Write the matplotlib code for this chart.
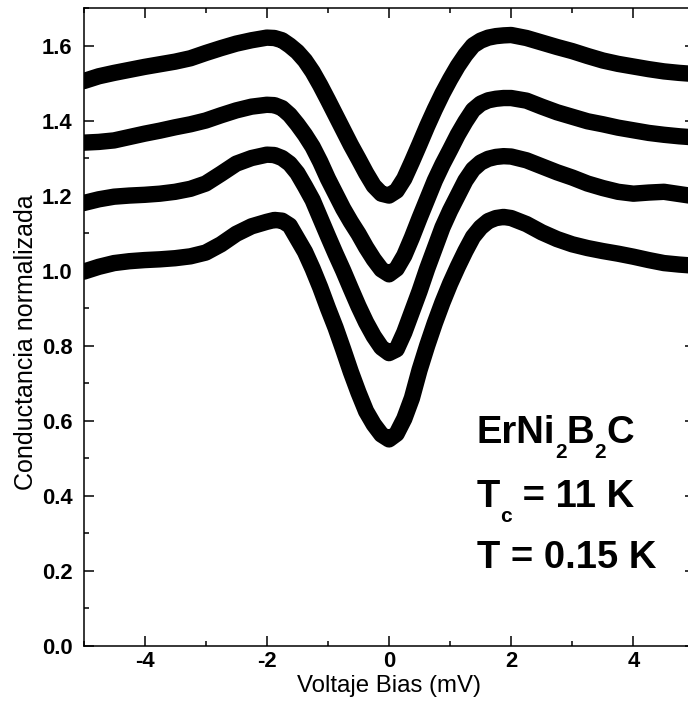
import matplotlib
matplotlib.use("Agg")
import matplotlib.pyplot as plt
from matplotlib import transforms
from matplotlib.ticker import MultipleLocator, FixedLocator

plt.rcParams['font.family'] = ['Liberation Sans', 'DejaVu Sans']

# Bias voltage (mV): coarser on the flat wings, finer across the gap
bias = [-5.0, -4.75, -4.5, -4.25, -4.0, -3.75, -3.5, -3.25, -3.0, -2.75, -2.5, -2.25,
        -2.0, -1.875, -1.75, -1.625, -1.5, -1.375, -1.25, -1.125, -1.0, -0.875,
        -0.75, -0.625, -0.5, -0.375, -0.25, -0.125, 0.0, 0.125, 0.25, 0.375, 0.5,
        0.625, 0.75, 0.875, 1.0, 1.125, 1.25, 1.375, 1.5, 1.625, 1.75, 1.875, 2.0,
        2.25, 2.5, 2.75, 3.0, 3.25, 3.5, 3.75, 4.0, 4.25, 4.5, 4.75, 5.0]

# Normalized conductance curves (vertically offset)
g_top = [1.505, 1.518, 1.527, 1.535, 1.543, 1.550, 1.557, 1.566, 1.580, 1.593, 1.605, 1.614,
         1.621, 1.620, 1.614, 1.600, 1.583, 1.560, 1.530, 1.494, 1.455, 1.415,
         1.375, 1.335, 1.298, 1.260, 1.226, 1.205, 1.200, 1.213, 1.245, 1.290, 1.337,
         1.385, 1.430, 1.472, 1.510, 1.545, 1.575, 1.600, 1.613, 1.621, 1.625, 1.627, 1.628,
         1.620, 1.608, 1.596, 1.585, 1.572, 1.560, 1.551, 1.544, 1.537, 1.531, 1.527, 1.524]
g_upper = [1.341, 1.343, 1.347, 1.356, 1.365, 1.373, 1.382, 1.390, 1.400, 1.414, 1.427, 1.437,
           1.442, 1.441, 1.433, 1.415, 1.390, 1.362, 1.330, 1.290, 1.245, 1.205,
           1.165, 1.130, 1.098, 1.062, 1.030, 1.003, 0.990, 1.005, 1.040, 1.088, 1.140,
           1.190, 1.240, 1.283, 1.322, 1.362, 1.397, 1.428, 1.445, 1.454, 1.458, 1.460, 1.460,
           1.453, 1.437, 1.422, 1.410, 1.398, 1.390, 1.381, 1.374, 1.367, 1.362, 1.358, 1.355]
g_lower = [1.180, 1.190, 1.197, 1.200, 1.202, 1.205, 1.210, 1.218, 1.232, 1.258, 1.285, 1.300,
           1.309, 1.308, 1.300, 1.285, 1.260, 1.225, 1.188, 1.140, 1.092, 1.045,
           1.000, 0.952, 0.905, 0.862, 0.825, 0.795, 0.780, 0.790, 0.835, 0.890, 0.945,
           1.005, 1.060, 1.115, 1.160, 1.200, 1.240, 1.270, 1.288, 1.298, 1.303, 1.305, 1.304,
           1.294, 1.278, 1.262, 1.248, 1.232, 1.220, 1.210, 1.205, 1.208, 1.210, 1.204, 1.198]
g_bottom = [0.997, 1.010, 1.020, 1.025, 1.028, 1.030, 1.033, 1.038, 1.048, 1.070, 1.098, 1.118,
            1.130, 1.135, 1.133, 1.120, 1.085, 1.050, 1.005, 0.955, 0.900, 0.848,
            0.790, 0.730, 0.675, 0.625, 0.590, 0.563, 0.550, 0.565, 0.605, 0.660, 0.735,
            0.800, 0.860, 0.915, 0.965, 1.010, 1.052, 1.090, 1.115, 1.132, 1.140, 1.143, 1.140,
            1.124, 1.102, 1.084, 1.070, 1.060, 1.052, 1.045, 1.037, 1.028, 1.020, 1.016, 1.013]

curves = [g_bottom, g_lower, g_upper, g_top]

x_major = [-4, -2, 0, 2, 4]
y_major = [0.0, 0.2, 0.4, 0.6, 0.8, 1.0, 1.2, 1.4, 1.6]

W, H = 688, 702
fig = plt.figure(figsize=(W / 100, H / 100), dpi=100)
ax = fig.add_axes([83.5 / W, 56.3 / H, 611 / W, 637.7 / H])

for g in curves:
    ax.plot(bias, g, color='black', lw=11.8, solid_capstyle='round',
            solid_joinstyle='round')

ax.set_xlim(-5, 5)
ax.set_ylim(0, 1.7)
ax.xaxis.set_major_locator(FixedLocator(x_major))
ax.yaxis.set_major_locator(FixedLocator(y_major))
ax.xaxis.set_minor_locator(MultipleLocator(1))
ax.yaxis.set_minor_locator(MultipleLocator(0.1))
ax.set_xticklabels([f"{v:d}" for v in x_major])
ax.set_yticklabels([f"{v:.1f}" for v in y_major])

ax.tick_params(which='both', direction='in', top=True, right=True, width=1.1)
ax.tick_params(which='major', length=7)
ax.tick_params(which='minor', length=3.6)
ax.tick_params(axis='x', which='major', pad=4)
ax.tick_params(axis='y', which='major', pad=8)
for lab in ax.get_xticklabels() + ax.get_yticklabels():
    lab.set_fontsize(15.8)
    lab.set_fontweight('bold')
for sp in ax.spines.values():
    sp.set_linewidth(1.1)

ax.set_xlabel('Voltaje Bias (mV)', fontsize=17.3)
ax.set_ylabel('Conductancia normalizada', fontsize=18)
ax.xaxis.set_label_coords(0.5, -0.046)
ax.yaxis.set_label_coords(-0.074, 0.476)


def rich_text(ax, x, y, parts, size, subsize, subdrop):
    """Draw a run of text pieces, some of them as lowered subscripts."""
    fig = ax.figure
    renderer = fig.canvas.get_renderer()
    offset = 0.0
    for s, is_sub in parts:
        tr = transforms.offset_copy(ax.transData, fig=fig, x=offset,
                                    y=-subdrop if is_sub else 0, units='dots')
        t = ax.text(x, y, s, transform=tr, fontsize=subsize if is_sub else size,
                    fontweight='bold', ha='left', va='baseline')
        offset += t.get_window_extent(renderer).width


rich_text(ax, 1.435, 0.540, [("ErNi", False), ("2", True), ("B", False),
                              ("2", True), ("C", False)], 27.5, 15, 15)
rich_text(ax, 1.435, 0.370, [("T", False), ("c", True), (" = 11 K", False)],
          27.5, 15, 15)
rich_text(ax, 1.435, 0.207, [("T = 0.15 K", False)], 27.5, 15, 15)

fig.savefig('out.png', dpi=100)
